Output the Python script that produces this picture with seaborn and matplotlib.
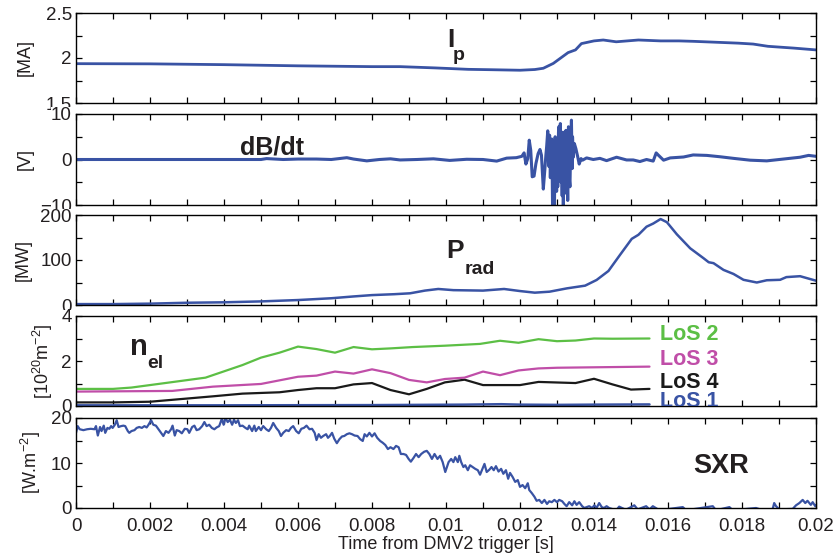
import numpy as np
import pandas as pd
import matplotlib
matplotlib.use("Agg")
import matplotlib.pyplot as plt
import seaborn as sns
from matplotlib.ticker import MultipleLocator, FuncFormatter

# ---------------- data ----------------
ip_t = [0, 0.002, 0.004, 0.006, 0.008, 0.00876, 0.0097, 0.0106, 0.0112, 0.012,
        0.0124, 0.01263, 0.0129, 0.0131, 0.0133, 0.0135, 0.01366, 0.0140, 0.01425, 0.0146,
        0.0152, 0.0158, 0.0163, 0.0167, 0.0173, 0.0179, 0.0183, 0.0187, 0.0194, 0.0200]
ip_v = [1.937, 1.935, 1.926, 1.913, 1.904, 1.904, 1.89, 1.874, 1.87, 1.864,
        1.872, 1.886, 1.94, 2.0, 2.06, 2.09, 2.16, 2.19, 2.2, 2.18,
        2.2, 2.19, 2.19, 2.185, 2.175, 2.165, 2.155, 2.13, 2.11, 2.09]

db_t = [0, 0.005, 0.00515, 0.0056, 0.006, 0.0065, 0.0069, 0.00732, 0.0075, 0.00786,
        0.0082, 0.0085, 0.00876, 0.00921, 0.00966, 0.0101, 0.01056, 0.011, 0.01137, 0.01164,
        0.0119, 0.01205, 0.01211, 0.01216, 0.01221, 0.01225, 0.01229, 0.01233, 0.01238, 0.01243,
        0.01249, 0.01254, 0.01258, 0.01263, 0.01267, 0.0127, 0.01272, 0.01275, 0.01277, 0.01278,
        0.0128, 0.01282, 0.01284, 0.01286, 0.01288, 0.0129, 0.01292, 0.01293, 0.01295, 0.01297,
        0.01299, 0.013, 0.01302, 0.01304, 0.01305, 0.01307, 0.01309, 0.01311, 0.01312, 0.01314,
        0.01316, 0.01317, 0.01319, 0.0132, 0.01322, 0.01324, 0.01326, 0.01327, 0.01329, 0.01331,
        0.01333, 0.01335, 0.01337, 0.01339, 0.01341, 0.01342, 0.01344, 0.01347, 0.01351, 0.01356,
        0.0136, 0.01365, 0.01369, 0.0138, 0.01398, 0.01416, 0.01434, 0.01461, 0.01488, 0.01506,
        0.01524, 0.01542, 0.0156, 0.01568, 0.01574, 0.01588, 0.01606, 0.01642, 0.01668, 0.01705,
        0.01741, 0.01777, 0.01822, 0.01867, 0.01912, 0.01957, 0.0198, 0.0200]
db_v = [0, 0, 0.2, 0, 0.1, 0.1, 0, 0.4, 0.1, -0.3,
        0, 0.15, -0.1, 0, 0.15, -0.2, 0.05, 0, -0.35, 0.3,
        0.4, 0.7, 1.45, -1.0, 0.2, 4.25, 2.05, -3.8, -3.65, -0.9,
        1.3, 2.2, 0.95, -6.5, -2.35, 1.0, 2.8, 6.3, 1.0, -1.5,
        5.35, -4.0, 3.0, 4.5, -10.4, 3.0, -8.0, -11.1, 5.0, -1.6,
        -7.0, 4.25, -6.0, 6.0, 7.2, -3.0, 7.9, -5.0, 1.3, -8.0,
        6.0, -11.1, 3.0, -7.5, 5.5, 6.4, -5.0, 1.3, -9.0, 7.2,
        -4.0, -6.0, 3.0, 8.65, -2.0, 5.0, 0.5, 3.5, 2.4, 0.6,
        -1.0, 0.2, -0.15, 0.35, 0, 0.25, -0.25, 0.5, -0.1, -0.1,
        -0.45, 0, -0.35, 1.45, 0.95, -0.15, 0.35, 0.55, 1.0, 0.9,
        0.6, 0.25, -0.15, -0.3, 0.1, 0.5, 0.9, 0.7]

prad_t = [0, 0.001, 0.002, 0.003, 0.004, 0.005, 0.006, 0.0069, 0.0075, 0.008, 0.0086,
          0.00903, 0.00943, 0.00979, 0.0102, 0.0110, 0.01157, 0.0120, 0.0124, 0.0128, 0.01327,
          0.01376, 0.01407, 0.01439, 0.0147, 0.01502, 0.0152, 0.01542, 0.0156, 0.0158, 0.01597,
          0.01624, 0.0166, 0.01696, 0.0171, 0.01723, 0.0175, 0.01777, 0.01804, 0.0184, 0.01867,
          0.01903, 0.0192, 0.01957, 0.0200]
prad_v = [2, 2, 3, 5, 6, 8, 11, 15, 19, 22, 24,
          26, 32, 35.6, 33, 32, 35.6, 31, 27.4, 29.6, 37,
          43, 55.6, 75.6, 111, 147, 156, 174, 181, 191, 184,
          157, 126, 104, 95, 93, 78, 69, 56, 50, 55,
          56, 62, 64, 54]

los2_t = [0, 0.001, 0.0015, 0.002, 0.0025, 0.0035, 0.0045, 0.005, 0.0055, 0.006, 0.0065,
          0.007, 0.0075, 0.008, 0.0085, 0.0091, 0.00997, 0.01092, 0.01146, 0.01196, 0.0125,
          0.013, 0.0135, 0.014, 0.0145, 0.0155]
los2_v = [0.76, 0.76, 0.82, 0.93, 1.04, 1.26, 1.82, 2.15, 2.37, 2.64, 2.53,
          2.37, 2.62, 2.52, 2.56, 2.62, 2.68, 2.76, 2.9, 2.81, 2.97,
          2.88, 2.91, 3.0, 2.99, 3.0]
los3_t = [0, 0.0026, 0.0037, 0.005, 0.006, 0.0065, 0.007, 0.0075, 0.008, 0.0085, 0.009,
          0.00948, 0.00997, 0.0105, 0.011, 0.01146, 0.01196, 0.0125, 0.013, 0.014, 0.0155]
los3_v = [0.64, 0.67, 0.86, 0.98, 1.3, 1.35, 1.53, 1.44, 1.63, 1.46, 1.16,
          1.05, 1.2, 1.26, 1.53, 1.37, 1.58, 1.67, 1.7, 1.72, 1.75]
los4_t = [0, 0.001, 0.002, 0.0037, 0.0045, 0.0055, 0.006, 0.0065, 0.007, 0.0075, 0.008,
          0.0085, 0.009, 0.00948, 0.00997, 0.0105, 0.011, 0.012, 0.0125, 0.0135, 0.014,
          0.0145, 0.015, 0.0155]
los4_v = [0.16, 0.16, 0.19, 0.43, 0.55, 0.61, 0.71, 0.79, 0.79, 0.96, 1.02,
          0.71, 0.52, 0.76, 1.05, 1.17, 0.93, 0.93, 1.07, 1.02, 1.21,
          0.96, 0.73, 0.76]
los1_t = [0, 0.004, 0.008, 0.0105, 0.0115, 0.012, 0.013, 0.014, 0.0155]
los1_v = [0.03, 0.03, 0.04, 0.06, 0.08, 0.06, 0.05, 0.06, 0.07]

sxr_t_ms = [0.0, 0.045, 0.1, 0.2, 0.3, 0.4, 0.5, 0.54, 0.59, 0.65, 0.69, 0.75, 0.79, 0.85, 0.9,
            0.95, 0.99, 1.05, 1.1, 1.15, 1.22, 1.28, 1.33, 1.4, 1.44, 1.5, 1.58, 1.64, 1.71, 1.78,
            1.85, 1.91, 1.96, 2.03, 2.09, 2.16, 2.23, 2.3, 2.36, 2.43, 2.5, 2.57, 2.61, 2.67, 2.72,
            2.79, 2.86, 2.94, 3.01, 3.06, 3.14, 3.2, 3.26, 3.33, 3.41, 3.47, 3.53, 3.6, 3.67, 3.74,
            3.8, 3.87, 3.94, 3.99, 4.04, 4.1, 4.16, 4.22, 4.27, 4.32, 4.38, 4.43, 4.5, 4.58, 4.64,
            4.68, 4.76, 4.82, 4.86, 4.94, 5.0, 5.06, 5.14, 5.21, 5.27, 5.33, 5.41, 5.48, 5.54, 5.6,
            5.68, 5.75, 5.81, 5.87, 5.95, 6.02, 6.09, 6.16, 6.23, 6.31, 6.38, 6.45, 6.5, 6.56, 6.62,
            6.68, 6.76, 6.81, 6.86, 6.92, 6.98, 7.05, 7.12, 7.19, 7.25, 7.32, 7.39, 7.46, 7.53, 7.61,
            7.68, 7.75, 7.8, 7.86, 7.93, 8.0, 8.07, 8.14, 8.22, 8.29, 8.36, 8.43, 8.5, 8.58, 8.65,
            8.72, 8.78, 8.85, 8.92, 8.99, 9.05, 9.12, 9.19, 9.26, 9.33, 9.41, 9.48, 9.55, 9.62, 9.69,
            9.77, 9.84, 9.91, 9.98,
            10.07, 10.14, 10.2, 10.25, 10.32, 10.36, 10.41, 10.47, 10.52, 10.59, 10.65, 10.72, 10.79,
            10.86, 10.92, 10.97, 11.04, 11.1, 11.17, 11.23, 11.29, 11.35, 11.42, 11.49, 11.55, 11.62,
            11.68, 11.73, 11.8, 11.87, 11.94, 12.0, 12.07, 12.14, 12.21, 12.25, 12.32, 12.39, 12.45,
            12.52, 12.59, 12.66, 12.73, 12.79, 12.86, 12.93, 13.0, 13.06, 13.14, 13.2, 13.26, 13.33,
            13.41, 13.47, 13.53, 13.6, 13.68, 13.74, 13.8, 13.87, 13.95, 14.01, 14.07, 14.14, 14.21,
            14.27, 14.34, 14.41, 14.6, 14.68, 14.86, 15.09, 15.18, 15.41, 15.5, 15.59, 15.77, 16.4,
            16.49, 17.21, 17.3, 17.66, 17.75, 18.38, 18.56, 18.83, 18.87, 18.92, 19.01, 19.37, 19.46,
            19.55, 19.64, 19.71, 19.77, 19.86, 19.91, 19.98, 20.0]
sxr_v = [16.7, 18.2, 17.5, 17.3, 17.5, 17.6, 17.5, 18.2, 16.1, 18.0, 17.1, 18.3, 16.7, 17.8, 17.6,
         18.2, 17.8, 18.5, 19.5, 18.0, 18.2, 18.3, 18.2, 17.1, 16.7, 17.1, 17.3, 17.8, 18.0, 17.8,
         18.2, 17.9, 18.5, 19.5, 18.5, 18.3, 17.5, 16.7, 16.0, 17.1, 16.7, 17.5, 18.3, 16.1, 17.3,
         17.1, 16.6, 17.6, 17.5, 16.7, 18.0, 18.3, 17.3, 17.5, 18.2, 19.1, 18.2, 18.5, 17.8, 17.5,
         17.9, 18.2, 19.8, 18.5, 20.0, 19.1, 19.6, 18.5, 19.6, 18.9, 19.5, 18.2, 18.3, 17.8, 17.5,
         18.3, 17.1, 18.3, 17.1, 18.0, 17.3, 18.2, 17.5, 17.1, 17.8, 18.9, 17.8, 17.1, 16.0, 16.7,
         17.3, 17.1, 17.8, 18.2, 17.1, 16.6, 17.6, 17.8, 18.3, 17.5, 17.6, 16.7, 15.1, 16.4, 15.6,
         16.0, 16.4, 15.6, 16.0, 16.7, 15.4, 14.4, 15.3, 15.9, 16.0, 16.4, 16.6, 16.4, 16.1, 16.0,
         15.3, 14.9, 16.4, 15.9, 16.7, 15.9, 16.6, 15.6, 14.9, 14.5, 14.0, 13.1, 13.5, 13.1, 13.8,
         13.5, 12.0, 12.0, 11.8, 10.9, 10.3, 11.1, 12.0, 11.3, 12.0, 12.5, 12.7, 12.0, 10.9, 12.0,
         10.9, 11.6, 10.2, 8.0,
         10.2, 10.9, 10.2, 11.3, 10.2, 11.6, 10.2, 9.1, 9.5, 8.4, 9.5, 9.1, 8.7,
         8.4, 7.4, 8.4, 9.8, 8.0, 8.5, 9.1, 8.4, 9.3, 8.1, 8.7, 7.6, 8.4,
         6.5, 7.8, 6.9, 5.8, 6.2, 4.7, 5.1, 4.4, 5.5, 4.0, 3.3, 2.5, 1.6,
         1.8, 1.1, 1.8, 0.9, 1.5, 1.3, 1.8, 1.3, 1.8, 1.5, 0.9, 0.4, 1.3,
         0.6, 1.5, 0.7, 1.3, 0.4, 0.0, 0.2, 0.4, 0.0, 0.6, 0.0, 1.1, 0.2,
         0.0, 0.4, 0.0, -0.5, 0.3, -0.4, 0.6, -0.3, 0.4, -0.3, 0.4, -0.5, 0.2,
         -0.5, 0.4, -0.5, 0.2, -0.5, 0.0, -0.5, -0.2, 1.1, 0.4, -0.3, -0.2, 0.6,
         1.1, 1.8, 1.1, 1.6, 0.7, 1.3, 0.4, 0.6]

x_ticks = [0, 0.002, 0.004, 0.006, 0.008, 0.01, 0.012, 0.014, 0.016, 0.018, 0.02]

# ---------------- style ----------------
sns.set_theme(style="ticks")
plt.rcParams["font.family"] = ["Liberation Sans", "DejaVu Sans"]
plt.rcParams["mathtext.fontset"] = "custom"
plt.rcParams["mathtext.rm"] = "Liberation Sans"
plt.rcParams["mathtext.it"] = "Liberation Sans"
plt.rcParams["axes.unicode_minus"] = True

BLUE = "#3953a4"
GREEN = "#5cbf45"
MAGENTA = "#c04ea8"
BLACK = "#1a1a1a"
TXT = "#231f20"

fig = plt.figure(figsize=(8.37, 5.58), dpi=100)
W, H = 837.0, 558.0
left, right = 76, 816
panels_px = [(13, 103), (114, 205), (215, 305), (316, 406), (418, 508)]
axes = []
for top, bot in panels_px:
    axes.append(fig.add_axes([left / W, 1 - bot / H, (right - left) / W, (bot - top) / H]))

def fmt(v, pos):
    s = f"{v:g}"
    return s.replace("-", "\u2212")

specs = [
    ((1.5, 2.5), 0.5, 0.25, "[MA]", -0.057),
    ((-10, 10), 10, 5, "[V]", -0.057),
    ((0, 200), 100, 50, "[MW]", -0.060),
    ((0, 4), 2, 1, r"[10$^{20}$m$^{-2}$]", -0.028),
    ((0, 20), 10, 5, r"[W.m$^{-2}$]", -0.045),
]

def line(ax, t, v, color, lw=1.8):
    df = pd.DataFrame({"t": t, "v": v})
    sns.lineplot(data=df, x="t", y="v", ax=ax, color=color, linewidth=lw,
                 estimator=None, sort=False, legend=False)

line(axes[0], ip_t, ip_v, BLUE, 2.0)
line(axes[1], db_t, db_v, BLUE, 2.2)
line(axes[2], prad_t, prad_v, BLUE, 1.8)
line(axes[3], los1_t, los1_v, BLUE, 1.8)
line(axes[3], los4_t, los4_v, BLACK, 1.6)
line(axes[3], los3_t, los3_v, MAGENTA, 1.6)
line(axes[3], los2_t, los2_v, GREEN, 1.6)
line(axes[4], [x / 1000 for x in sxr_t_ms], sxr_v, BLUE, 1.6)

for i, (ax, (yl, maj, mnr, lab, lx)) in enumerate(zip(axes, specs)):
    ax.set_xlim(0, 0.02)
    ax.set_ylim(*yl)
    ax.set_xticks(x_ticks)
    ax.xaxis.set_minor_locator(MultipleLocator(0.001))
    ax.yaxis.set_major_locator(MultipleLocator(maj))
    ax.yaxis.set_minor_locator(MultipleLocator(mnr))
    ax.yaxis.set_major_formatter(FuncFormatter(fmt))
    ax.xaxis.set_major_formatter(FuncFormatter(fmt))
    ax.tick_params(which="both", direction="in", top=True, right=True,
                   length=4, width=0.9, color="black")
    ax.tick_params(axis="y", which="major", labelsize=13.5, pad=3, labelcolor=TXT)
    ax.tick_params(axis="x", which="major", labelsize=13.5, pad=7, labelcolor=TXT)
    if i < 4:
        ax.tick_params(axis="x", labelbottom=False)
    for sp in ax.spines.values():
        sp.set_visible(True)
        sp.set_linewidth(1.0)
        sp.set_color("black")
    ax.set_xlabel("")
    ax.set_ylabel(lab, fontsize=13, color=TXT)
    ax.yaxis.set_label_coords(lx, 0.5)
    ax.set_facecolor("white")
    # tick labels drawn on a white ground, so a lower panel's label hides
    # the part of the upper panel's label it overlaps (as in the reference)
    for tk in ax.yaxis.get_major_ticks():
        tk.label1.set_bbox(dict(facecolor="white", edgecolor="none", pad=0.0))

axes[4].set_xlabel("Time from DMV2 trigger [s]", fontsize=13, color=TXT, labelpad=1)

# in-panel labels
kw = dict(fontweight="bold", color=TXT, va="baseline", ha="left")
axes[0].text(0.01003, 2.122, "I", fontsize=19, **kw)
axes[0].text(0.01019, 1.978, "p", fontsize=14, **kw)
axes[1].text(0.00443, 1.0, "dB/dt", fontsize=18, **kw)
axes[2].text(0.01002, 104, "P", fontsize=19, **kw)
axes[2].text(0.01051, 70, "rad", fontsize=14, **kw)
axes[3].text(0.00146, 2.27, "n", fontsize=21, **kw)
axes[3].text(0.00192, 1.67, "el", fontsize=14, **kw)
axes[4].text(0.01668, 7.8, "SXR", fontsize=19.5, **kw)

los_kw = dict(fontweight="bold", va="baseline", ha="left", fontsize=15.5)
axes[3].text(0.01578, 2.93, "LoS 2", color=GREEN, **los_kw)
axes[3].text(0.01578, 1.82, "LoS 3", color=MAGENTA, **los_kw)
axes[3].text(0.01578, 0.79, "LoS 4", color=BLACK, **los_kw)
axes[3].text(0.01578, -0.03, "LoS 1", color=BLUE, clip_on=True, **los_kw)

fig.savefig("out.png", dpi=100, facecolor="white")
